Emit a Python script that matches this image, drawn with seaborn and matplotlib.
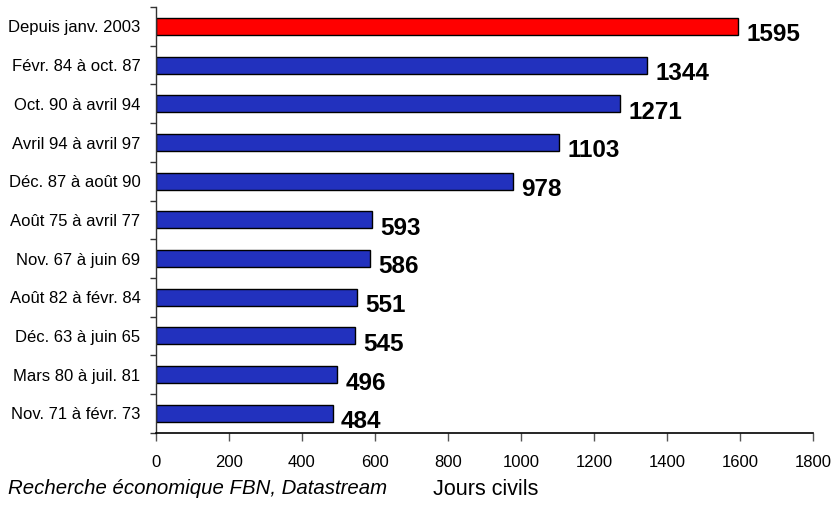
import matplotlib
matplotlib.use("Agg")
import matplotlib.pyplot as plt
import seaborn as sns
import pandas as pd
import numpy as np

# Longest expansion phases, in calendar days
periods = [
    "Depuis janv. 2003",
    "Févr. 84 à oct. 87",
    "Oct. 90 à avril 94",
    "Avril 94 à avril 97",
    "Déc. 87 à août 90",
    "Août 75 à avril 77",
    "Nov. 67 à juin 69",
    "Août 82 à févr. 84",
    "Déc. 63 à juin 65",
    "Mars 80 à juil. 81",
    "Nov. 71 à févr. 73",
]
days = [1595, 1344, 1271, 1103, 978, 593, 586, 551, 545, 496, 484]
x_ticks = [0, 200, 400, 600, 800, 1000, 1200, 1400, 1600, 1800]

current_color = "#FF0000"
past_color = "#2231BE"

sns.set_theme(style="white")
plt.rcParams["font.family"] = ["Liberation Sans", "DejaVu Sans"]
plt.rcParams["text.color"] = "black"
plt.rcParams["xtick.labelcolor"] = "black"
plt.rcParams["ytick.labelcolor"] = "black"

df = pd.DataFrame({"period": periods, "days": days})
palette = [current_color] + [past_color] * (len(periods) - 1)

fig = plt.figure(figsize=(8.35, 5.08), dpi=100)
ax = fig.add_axes([0.1865, 0.1482, 0.974 - 0.1865, 0.986 - 0.1482])

sns.barplot(
    data=df, y="period", x="days", hue="period", palette=palette,
    order=periods, hue_order=periods, legend=False, width=0.44,
    edgecolor="black", linewidth=1.0, saturation=1, ax=ax,
)

ax.set_xlim(0, 1800)
ax.set_ylim(len(periods) - 0.5, -0.5)
ax.set_xticks(x_ticks)
ax.set_xticklabels([str(t) for t in x_ticks], fontsize=12, color="black")

# category labels centred on bars, tick marks between categories
ax.set_yticks(range(len(periods)))
ax.set_yticklabels(periods, fontsize=12, color="black")
ax.tick_params(axis="y", which="major", length=0, pad=11)
ax.set_yticks(np.arange(-0.5, len(periods) + 0.5, 1.0), minor=True)
ax.tick_params(axis="y", which="minor", length=4, width=1.0, color="#333333",
               direction="out", left=True)
ax.tick_params(axis="x", which="major", length=6, width=1.0, color="#555555",
               direction="out", bottom=True, pad=10)

ax.set_xlabel("")
ax.set_ylabel("")
for side in ["top", "right"]:
    ax.spines[side].set_visible(False)
ax.spines["left"].set_color("#333333")
ax.spines["bottom"].set_color("black")
ax.spines["left"].set_linewidth(1.0)
ax.spines["bottom"].set_linewidth(1.2)

for i, v in enumerate(days):
    ax.annotate(str(v), xy=(v, i), xytext=(6, -6), textcoords="offset points",
                ha="left", va="center", fontsize=17.5, fontweight="bold",
                color="black")

fig.text(8 / 835, 1 - 494 / 508, "Recherche économique FBN, Datastream",
         fontsize=14.7, style="italic", ha="left", va="baseline")
fig.text(486 / 835, 1 - 495 / 508, "Jours civils", fontsize=15.5,
         ha="center", va="baseline")

fig.savefig("out.png", dpi=100)
